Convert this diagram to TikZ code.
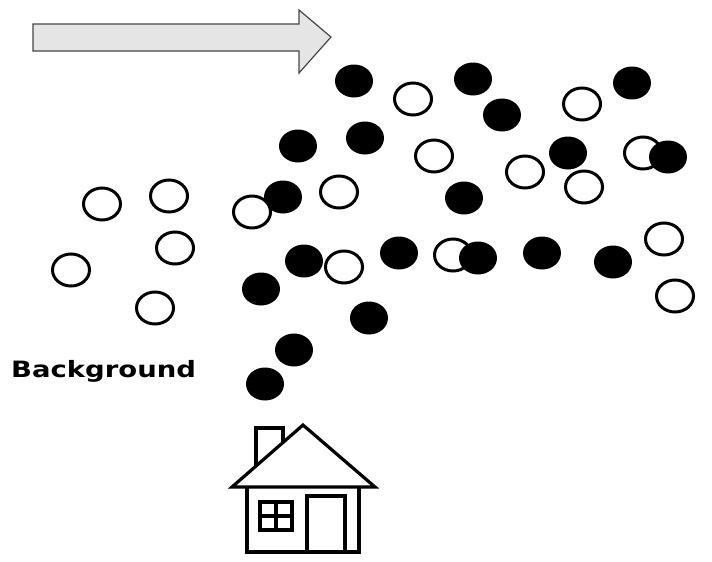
\documentclass[tikz,border=0pt]{standalone}
\usepackage{fontspec}
\newfontfamily\labelfont{DejaVu Sans}
\usetikzlibrary{shapes.geometric}

\tikzset{
  hollow/.style={ellipse,draw,line width=3pt,fill=white,inner sep=0pt,
    minimum width=37pt,minimum height=32pt},
  solid dot/.style={ellipse,fill=black,inner sep=0pt,
    minimum width=38pt,minimum height=33pt},
  house line/.style={line width=3.2pt,line join=miter}
}

\begin{document}
\begin{tikzpicture}[x=1pt,y=-1pt]
    \useasboundingbox (0,0) rectangle (712,562);
    % wind arrow
    \draw[fill=gray!20,draw=gray!55!black,line width=1.2pt]
      (33,24) -- (299,24) -- (299,10) -- (331,37) -- (299,73) -- (299,51) -- (33,51) -- cycle;
    % empty particles
    \node[hollow] (W0) at (102,204) {};
    \node[hollow] (W1) at (169,196) {};
    \node[hollow] (W2) at (175,248) {};
    \node[hollow] (W3) at (71,270) {};
    \node[hollow] (W4) at (155,308) {};
    \node[hollow] (W5) at (339,192) {};
    \node[hollow] (W6) at (344,267) {};
    \node[hollow] (W7) at (413,99) {};
    \node[hollow] (W8) at (434,156) {};
    \node[hollow] (W9) at (453,255) {};
    \node[hollow] (W10) at (525,172) {};
    \node[hollow] (W11) at (582,104) {};
    \node[hollow] (W12) at (584,187) {};
    \node[hollow] (W13) at (643,153) {};
    \node[hollow] (W14) at (664,239) {};
    \node[hollow] (W15) at (675,296) {};
    % filled particles
    \node[solid dot] (B0) at (354,81) {};
    \node[solid dot] (B1) at (473,79) {};
    \node[solid dot] (B2) at (632,83) {};
    \node[solid dot] (B3) at (502,115) {};
    \node[solid dot] (B4) at (298,146) {};
    \node[solid dot] (B5) at (365,138) {};
    \node[solid dot] (B6) at (568,153) {};
    \node[solid dot] (B7) at (668,157) {};
    \node[solid dot] (B8) at (283,197) {};
    \node[solid dot] (B9) at (464,198) {};
    \node[solid dot] (B10) at (304,261) {};
    \node[solid dot] (B11) at (399,253) {};
    \node[solid dot] (B12) at (478,258) {};
    \node[solid dot] (B13) at (542,253) {};
    \node[solid dot] (B14) at (613,262) {};
    \node[solid dot] (B15) at (261,289) {};
    \node[solid dot] (B16) at (369,318) {};
    \node[solid dot] (B17) at (294,350) {};
    \node[solid dot] (B18) at (265,384) {};
    \node[hollow] (W16) at (252,212) {};
    % label
    \node[anchor=west,font=\labelfont\bfseries\fontsize{22.5}{26}\selectfont,
      inner sep=0pt,xscale=1.22] (bg) at (11,371) {Background};
    % house
    \draw[house line] (256,466) -- (256,428) -- (283,428) -- (283,442.5);
    \draw[house line] (232,487) -- (303,425) -- (375,487) -- cycle;
    \draw[house line] (247,487) -- (247,552) -- (359,552) -- (359,487);
    \draw[house line] (260,502) rectangle (292,530);
    \draw[house line] (276,502) -- (276,530) (260,516) -- (292,516);
    \draw[house line] (307,552) -- (307,496) -- (345,496) -- (345,552);
\end{tikzpicture}
\end{document}
